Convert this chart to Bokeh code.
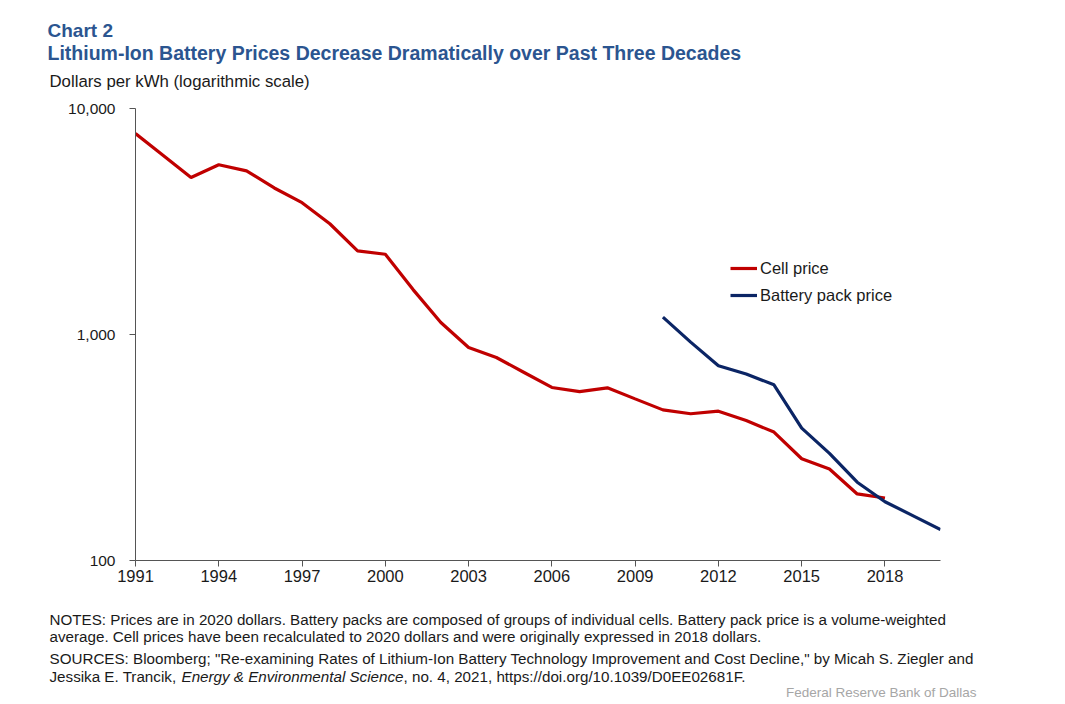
from bokeh.plotting import figure
from bokeh.layouts import column
from bokeh.models import (Range1d, FixedTicker, NumeralTickFormatter, Label, Legend, LegendItem)
from bokeh.embed import file_html
from bokeh.resources import INLINE

# ---- data ----
cell_years = list(range(1991, 2019))
cell_price = [7750, 6200, 4950, 5640, 5300, 4450, 3830, 3090, 2345, 2265,
              1580, 1130, 876, 791, 679, 583, 559, 581, 519, 464,
              446, 458, 416, 370, 282, 254, 197, 189]
pack_years = list(range(2010, 2021))
pack_price = [1194, 925, 727, 669, 599, 385, 298, 222, 182, 158, 137]
x_ticks = list(range(1991, 2019, 3))
y_ticks = [100, 1000, 10000]

title1 = "Chart 2"
title2 = "Lithium-Ion Battery Prices Decrease Dramatically over Past Three Decades"
ylabel = "Dollars per kWh (logarithmic scale)"
notes = [
    "NOTES: Prices are in 2020 dollars. Battery packs are composed of groups of individual cells. Battery pack price is a volume-weighted",
    "average. Cell prices have been recalculated to 2020 dollars and were originally expressed in 2018 dollars.",
    "SOURCES: Bloomberg; \"Re-examining Rates of Lithium-Ion Battery Technology Improvement and Cost Decline,\" by Micah S. Ziegler and",
]
src_a = "Jessika E. Trancik, "
src_b = "Energy & Environmental Science"
src_c = ", no. 4, 2021, https://doi.org/10.1039/D0EE02681F."
credit = "Federal Reserve Bank of Dallas"

W = 1065
H_TOP, H_MAIN, H_BOT = 92, 508, 104
FONT = "Liberation Sans"
TITLE_C = "#2B5590"
TXT = "#1a1a1a"
RED = "#C00000"
NAVY = "#0B2565"
NOTE_SIZE = "15.2px"


def text_fig(height, y0):
    f = figure(width=W, height=height, output_backend="svg", toolbar_location=None,
               x_range=Range1d(0, W), y_range=Range1d(y0 + height, y0),
               x_axis_location=None, y_axis_location=None, min_border=0,
               frame_align=False)
    f.outline_line_color = None
    f.grid.visible = False
    return f


def lab(f, text, x, y, size, color=TXT, style="normal", align="left"):
    f.add_layout(Label(x=x, y=y, text=text, text_font=FONT, text_font_size=size,
                       text_color=color, text_font_style=style,
                       text_align=align, text_baseline="middle"))


# ---- header ----
top = text_fig(H_TOP, 0)
lab(top, title1, 47, 30, "19px", TITLE_C, "bold")
lab(top, title2, 47, 52, "19.5px", TITLE_C, "bold")
lab(top, ylabel, 49, 81, "16.8px")

# ---- main chart ----
p = figure(width=W, height=H_MAIN, output_backend="svg", toolbar_location=None,
           y_axis_type="log", x_range=Range1d(1991, 2020), y_range=Range1d(100, 10000),
           min_border_left=135, min_border_right=125, min_border_top=16, min_border_bottom=40,
           frame_align=False)
p.outline_line_color = None
p.xgrid.visible = False
p.ygrid.visible = False

r1 = p.line(cell_years, cell_price, line_color=RED, line_width=3.2)
r2 = p.line(pack_years, pack_price, line_color=NAVY, line_width=3.2)

for ax in (p.xaxis[0], p.yaxis[0]):
    ax.axis_line_color = "#555555"
    ax.major_tick_line_color = "#555555"
    ax.major_tick_out = 6
    ax.major_tick_in = 0
    ax.minor_tick_out = 0
    ax.minor_tick_in = 0
    ax.major_label_text_font = FONT
    ax.major_label_text_color = TXT
p.xaxis.ticker = FixedTicker(ticks=x_ticks)
p.xaxis.major_label_text_font_size = "16.5px"
p.xaxis.major_label_standoff = 3
p.yaxis.ticker = FixedTicker(ticks=y_ticks)
p.yaxis.formatter = NumeralTickFormatter(format="0,0")
p.yaxis.major_label_text_font_size = "15.5px"
p.yaxis.major_label_standoff = 14

legend = Legend(items=[LegendItem(label="Cell price", renderers=[r1]),
                       LegendItem(label="Battery pack price", renderers=[r2])],
                location=(595, 255), orientation="vertical",
                border_line_color=None, background_fill_alpha=0,
                padding=0, margin=0, spacing=7, glyph_width=27, glyph_height=20,
                label_standoff=3, label_text_font=FONT, label_text_font_size="16.5px",
                label_text_color=TXT)
p.add_layout(legend, "center")

# ---- footer ----
bot = text_fig(H_BOT, 600)
lab(bot, notes[0], 49, 619, NOTE_SIZE)
lab(bot, notes[1], 49, 636, NOTE_SIZE)
lab(bot, notes[2], 49, 658, NOTE_SIZE)
lab(bot, src_a, 49, 676, NOTE_SIZE)
lab(bot, src_b, 181, 676, NOTE_SIZE, style="italic")
lab(bot, src_c, 403, 676, NOTE_SIZE)
lab(bot, credit, 976, 692, "13.5px", "#a6a6a6", align="right")

layout = column(top, p, bot, spacing=0)
open("out.html", "w").write(file_html(layout, INLINE))
